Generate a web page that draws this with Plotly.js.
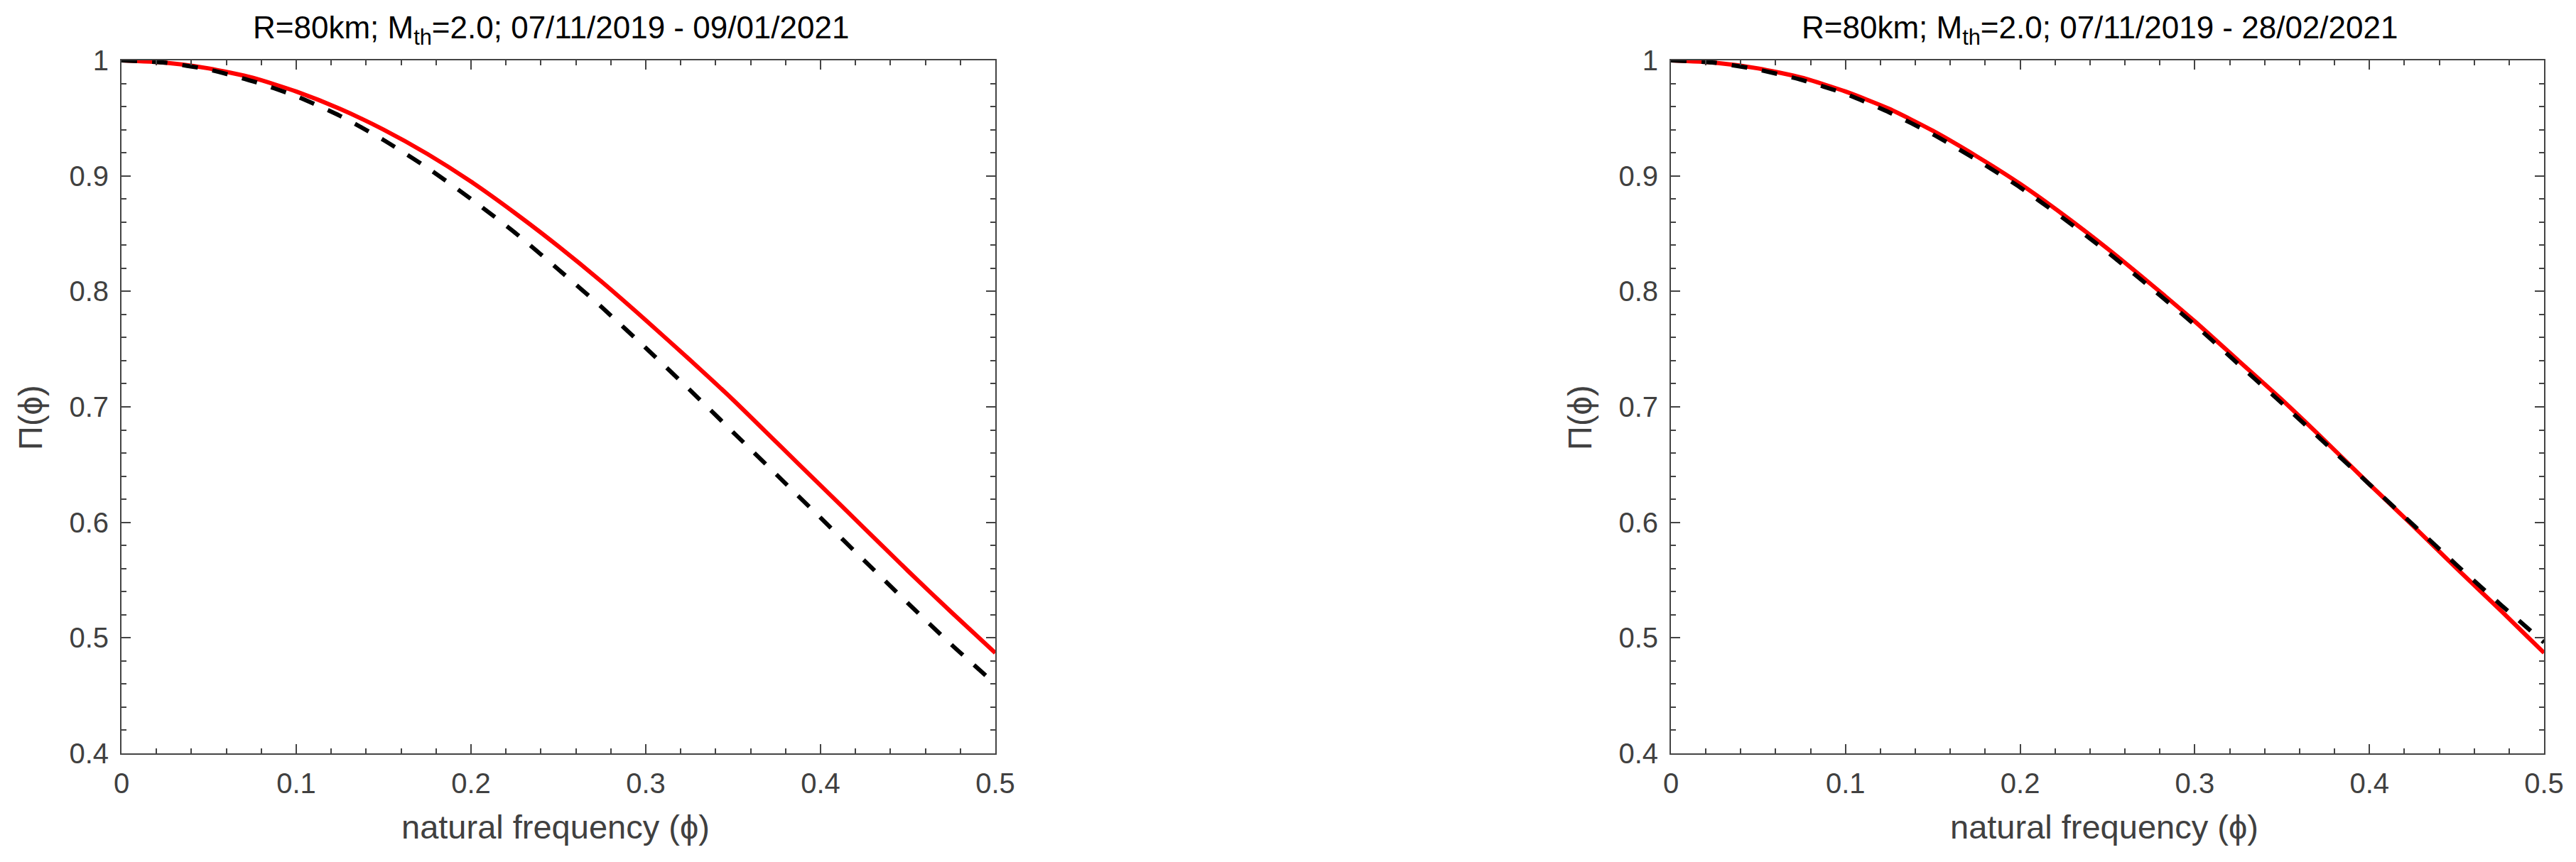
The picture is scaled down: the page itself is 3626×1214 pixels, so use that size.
<!DOCTYPE html>
<html>
<head>
<meta charset="utf-8">
<script src="https://cdn.plot.ly/plotly-3.0.1.min.js"></script>
<style>html,body{margin:0;padding:0;background:#fff;}#chart{width:3626px;height:1214px;}</style>
</head>
<body>
<div id="chart"></div>
<script>
// natural frequency phi
const phi = [0, 0.025, 0.05, 0.075, 0.1, 0.125, 0.15, 0.175, 0.2, 0.225, 0.25,
             0.275, 0.3, 0.325, 0.35, 0.375, 0.4, 0.425, 0.45, 0.475, 0.5];

// Left panel: 07/11/2019 - 09/01/2021
const leftRedSolid = [1.000, 0.998, 0.993, 0.985, 0.973, 0.958, 0.940, 0.919, 0.895, 0.868, 0.839,
                      0.808, 0.775, 0.741, 0.706, 0.669, 0.632, 0.595, 0.558, 0.522, 0.487];
const leftBlackDashed = [1.000, 0.998, 0.992, 0.982, 0.969, 0.952, 0.931, 0.907, 0.880, 0.851, 0.819,
                         0.786, 0.751, 0.715, 0.678, 0.641, 0.604, 0.567, 0.530, 0.494, 0.460];

// Right panel: 07/11/2019 - 28/02/2021
const rightRedSolid = [1.000, 0.998, 0.993, 0.985, 0.973, 0.958, 0.939, 0.917, 0.893, 0.866, 0.837,
                       0.806, 0.774, 0.740, 0.706, 0.670, 0.633, 0.597, 0.560, 0.524, 0.487];
const rightBlackDashed = [1.000, 0.998, 0.992, 0.983, 0.971, 0.955, 0.936, 0.914, 0.890, 0.863, 0.834,
                          0.803, 0.771, 0.737, 0.703, 0.668, 0.633, 0.598, 0.563, 0.529, 0.496];

// Tick labels
const xTickVals = [0, 0.1, 0.2, 0.3, 0.4, 0.5];
const xTickText = ['0', '0.1', '0.2', '0.3', '0.4', '0.5'];
const yTickVals = [0.4, 0.5, 0.6, 0.7, 0.8, 0.9, 1.0];
const yTickText = ['0.4', '0.5', '0.6', '0.7', '0.8', '0.9', '1'];

// Texts
const titleLeft = 'R=80km; M<sub>th</sub>=2.0; 07/11/2019 - 09/01/2021';
const titleRight = 'R=80km; M<sub>th</sub>=2.0; 07/11/2019 - 28/02/2021';
const xLabel = 'natural frequency (\u03D5)';
const yLabel = '\u03A0(\u03D5)';

const W = 3626, H = 1214;
const axisColor = '#444444';
const FONT = 'Liberation Sans, Arial, Helvetica, DejaVu Sans, sans-serif';

function px2x(p) { return p / W; }
function px2y(p) { return 1 - p / H; }

const traces = [
  {x: phi, y: leftRedSolid, xaxis: 'x', yaxis: 'y', mode: 'lines',
   line: {color: '#ff0000', width: 6, shape: 'spline', smoothing: 0.6}, hoverinfo: 'none'},
  {x: phi, y: leftBlackDashed, xaxis: 'x', yaxis: 'y', mode: 'lines',
   line: {color: '#000000', width: 6, dash: '22px,21px', shape: 'spline', smoothing: 0.6}, hoverinfo: 'none'},
  {x: phi, y: rightRedSolid, xaxis: 'x2', yaxis: 'y2', mode: 'lines',
   line: {color: '#ff0000', width: 6, shape: 'spline', smoothing: 0.6}, hoverinfo: 'none'},
  {x: phi, y: rightBlackDashed, xaxis: 'x2', yaxis: 'y2', mode: 'lines',
   line: {color: '#000000', width: 6, dash: '22px,21px', shape: 'spline', smoothing: 0.6}, hoverinfo: 'none'}
];

function xAxis(domain, anchor) {
  return {
    domain: domain, anchor: anchor, range: [0, 0.5], autorange: false,
    tickmode: 'array', tickvals: xTickVals, ticktext: xTickText,
    ticks: 'inside', ticklen: 13, tickwidth: 2, tickcolor: axisColor,
    minor: {dtick: 0.02, tick0: 0, ticks: 'inside', ticklen: 7, tickwidth: 2, tickcolor: axisColor, showgrid: false},
    showline: true, linecolor: axisColor, linewidth: 2, mirror: 'ticks',
    showgrid: false, zeroline: false,
    tickfont: {family: FONT, size: 40, color: '#404040'},
    ticklabelstandoff: 6
  };
}
function yAxis(domain, anchor) {
  return {
    domain: domain, anchor: anchor, range: [0.4, 1.0], autorange: false,
    tickmode: 'array', tickvals: yTickVals, ticktext: yTickText,
    ticks: 'inside', ticklen: 13, tickwidth: 2, tickcolor: axisColor,
    minor: {dtick: 0.02, tick0: 0.4, ticks: 'inside', ticklen: 7, tickwidth: 2, tickcolor: axisColor, showgrid: false},
    showline: true, linecolor: axisColor, linewidth: 2, mirror: 'ticks',
    showgrid: false, zeroline: false,
    tickfont: {family: FONT, size: 40, color: '#404040'},
    ticklabelstandoff: 8
  };
}

const yDom = [(H - 1061) / H, (H - 85) / H];

const annFont = {family: FONT, size: 44, color: '#000000'};
const labFont = {family: FONT, size: 47, color: '#404040'};

const layout = {
  width: W, height: H,
  margin: {l: 0, r: 0, t: 0, b: 0},
  paper_bgcolor: '#ffffff', plot_bgcolor: '#ffffff',
  showlegend: false,
  xaxis: xAxis([px2x(171), px2x(1401)], 'y'),
  yaxis: yAxis(yDom, 'x'),
  xaxis2: xAxis([px2x(2352), px2x(3581)], 'y2'),
  yaxis2: yAxis(yDom, 'x2'),
  annotations: [
    {text: titleLeft, xref: 'paper', yref: 'paper', x: px2x(775), y: px2y(42),
     xanchor: 'center', yanchor: 'middle', showarrow: false, font: annFont},
    {text: titleRight, xref: 'paper', yref: 'paper', x: px2x(2955), y: px2y(42),
     xanchor: 'center', yanchor: 'middle', showarrow: false, font: annFont},
    {text: xLabel, xref: 'paper', yref: 'paper', x: px2x(782), y: px2y(1164),
     xanchor: 'center', yanchor: 'middle', showarrow: false, font: labFont},
    {text: xLabel, xref: 'paper', yref: 'paper', x: px2x(2962), y: px2y(1164),
     xanchor: 'center', yanchor: 'middle', showarrow: false, font: labFont},
    {text: yLabel, xref: 'paper', yref: 'paper', x: px2x(43), y: px2y(588),
     xanchor: 'center', yanchor: 'middle', textangle: -90, showarrow: false, font: labFont},
    {text: yLabel, xref: 'paper', yref: 'paper', x: px2x(2224), y: px2y(588),
     xanchor: 'center', yanchor: 'middle', textangle: -90, showarrow: false, font: labFont}
  ]
};

Plotly.newPlot('chart', traces, layout, {staticPlot: true, displayModeBar: false});
</script>
</body>
</html>
